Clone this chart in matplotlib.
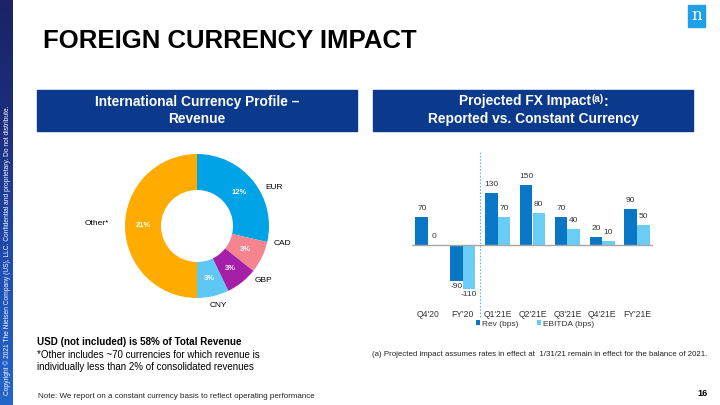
import numpy as np
import matplotlib
matplotlib.use('Agg')
import matplotlib.pyplot as plt
from matplotlib.patches import Rectangle

plt.rcParams['font.family'] = ['Liberation Sans', 'DejaVu Sans']

# donut data (share of total revenue, %)
currencies = ['EUR', 'CAD', 'GBP', 'CNY', 'Other*']
shares = [12, 3, 3, 3, 21]
pie_colors = ['#00a3e6', '#f4858f', '#a61fa8', '#5ec8f5', '#ffab00']

# FX impact data (bps)
periods = ["Q4'20", "FY'20", "Q1'21E", "Q2'21E", "Q3'21E", "Q4'21E", "FY'21E"]
rev_bps = [70, -90, 130, 150, 70, 20, 90]
ebitda_bps = [0, -110, 70, 80, 40, 10, 50]

W, H = 720, 405
fig = plt.figure(figsize=(7.2, 4.05), dpi=100)
renderer = fig.canvas.get_renderer()


def box(x, y, w, h):
    # pixel box (top-left origin) -> figure fraction
    return [x / W, 1 - (y + h) / H, w / W, h / H]


def fx(x):
    return x / W


def fy(y):
    return 1 - y / H


# left band with gradient
band = fig.add_axes(box(0, 0, 13, 405))
grad = np.linspace(0, 1, 256).reshape(-1, 1)
cmap = matplotlib.colors.LinearSegmentedColormap.from_list('band', ['#1a2464', '#1c2f80', '#1f4fb4', '#2466cc'])
band.imshow(grad, aspect='auto', cmap=cmap, extent=[0, 1, 0, 1], origin='upper')
band.axis('off')
fig.text(fx(7), fy(250), 'Copyright © 2021 The Nielsen Company (US), LLC. Confidential and proprietary. Do not distribute.',
         rotation=90, color='white', fontsize=4.8, ha='center', va='center')

# logo
fig.patches.append(Rectangle((fx(688), fy(27)), 17 / W, 22 / H, transform=fig.transFigure,
                             color='#1ea0e6', zorder=1))
fig.text(fx(696.5), fy(16), 'n', color='white', fontsize=12, ha='center', va='center',
         family='DejaVu Serif')

# title
fig.text(fx(43), fy(41), 'FOREIGN CURRENCY IMPACT', fontsize=18.5, fontweight='bold',
         ha='left', va='center', color='black')

# header boxes
hdr = '#0b3a8c'
fig.patches.append(Rectangle((fx(37), fy(131)), 320 / W, 41 / H, transform=fig.transFigure, color=hdr))
fig.patches.append(Rectangle((fx(373), fy(131)), 320 / W, 41 / H, transform=fig.transFigure, color=hdr))
fig.text(fx(197), fy(110.5), 'International Currency Profile –\nRevenue', color='white', fontsize=9.9,
         fontweight='bold', ha='center', va='center', linespacing=1.25)
fig.text(fx(533), fy(119.5), 'Reported vs. Constant Currency', color='white', fontsize=9.9,
         fontweight='bold', ha='center', va='center')
# first line with a small superscript, pieced together
hkw = dict(color='white', fontweight='bold', va='baseline', ha='left')
parts = [fig.text(0, 0, 'Projected FX Impact', fontsize=9.9, **hkw),
         fig.text(0, 0, '(a)', fontsize=7, **hkw),
         fig.text(0, 0, ':', fontsize=9.9, **hkw)]
widths = [p.get_window_extent(renderer).width for p in parts]
xpos = 533 - sum(widths) / 2
base = 105.5
for p, wd, rise in zip(parts, widths, [0, 3.5, 0]):
    p.set_position((fx(xpos), fy(base - rise)))
    xpos += wd + 0.5

# donut
ax1 = fig.add_axes(box(125, 154, 144, 144))
wedges, _ = ax1.pie(shares, colors=pie_colors, startangle=90, counterclock=False,
                    radius=1, wedgeprops=dict(width=0.5, linewidth=0))
ax1.set_xlim(-1, 1)
ax1.set_ylim(-1, 1)
ax1.set_aspect('equal')
# outer label spots, as placed on the slide
label_spot = {'EUR': (1.07, 0.54), 'CAD': (1.19, -0.24), 'GBP': (0.93, -0.76),
              'CNY': (0.29, -1.11), 'Other*': (-1.39, 0.03)}
for w, name, s in zip(wedges, currencies, shares):
    ang = np.deg2rad((w.theta1 + w.theta2) / 2)
    ax1.text(0.75 * np.cos(ang), 0.75 * np.sin(ang), f'{s}%', color='white', fontsize=5.5,
             fontweight='bold', ha='center', va='center')
    lx, ly = label_spot[name]
    ax1.text(lx, ly, name, fontsize=6, ha='center', va='center', clip_on=False)

# bars
ax2 = fig.add_axes(box(412, 156.5, 241, 148))
x = np.arange(len(periods))
bw = 0.36
rev_c = '#0a76c6'
ebd_c = '#6acdf5'
b1 = ax2.bar(x - bw / 2, rev_bps, bw, color=rev_c, label='Rev (bps)')
b2 = ax2.bar(x + bw / 2, ebitda_bps, bw, color=ebd_c, label='EBITDA (bps)')
for bars, vals in ((b1, rev_bps), (b2, ebitda_bps)):
    for r, v in zip(bars, vals):
        cx = r.get_x() + r.get_width() / 2
        if v >= 0:
            ax2.annotate(str(v), (cx, v), xytext=(0, 3), textcoords='offset points',
                         ha='center', va='bottom', fontsize=6, color='#333333')
        else:
            ax2.annotate(str(v), (cx, v), xytext=(0, -2), textcoords='offset points',
                         ha='center', va='top', fontsize=6, color='#333333')
ax2.axhline(0, color='#a6a6a6', linewidth=1)
ax2.plot([1.5, 1.5], [232, -180], color='#5bb8e8', linestyle=(0, (1.5, 1.5)), linewidth=0.8,
         clip_on=False)
ax2.set_xlim(-0.46, 6.46)
ax2.set_ylim(-150, 220)
ax2.set_xticks(x)
ax2.set_xticklabels(periods, fontsize=6.2, color='#333333')
ax2.tick_params(axis='x', length=0, pad=4)
ax2.set_yticks([])
for s in ax2.spines.values():
    s.set_visible(False)
ax2.patch.set_alpha(0)
ax2.legend(loc='center', bbox_to_anchor=(fx(535), fy(324)), bbox_transform=fig.transFigure,
           ncol=2, frameon=False, fontsize=6, handlelength=0.55, handleheight=0.55,
           handletextpad=0.2, columnspacing=2.2, labelcolor='#333333')

# notes
fig.text(fx(37), fy(342), 'USD (not included) is 58% of Total Revenue', fontsize=7.1, fontweight='bold',
         ha='left', va='center')
fig.text(fx(37), fy(361), '*Other includes ~70 currencies for which revenue is\nindividually less than 2% of consolidated revenues',
         fontsize=7, ha='left', va='center', linespacing=1.35)
fig.text(fx(372), fy(354), '(a) Projected impact assumes rates in effect at  1/31/21 remain in effect for the balance of 2021.',
         fontsize=5.7, ha='left', va='center', color='#222222')
fig.text(fx(38), fy(396), 'Note: We report on a constant currency basis to reflect operating performance',
         fontsize=5.8, ha='left', va='center', color='#222222')
fig.text(fx(708), fy(394), '16', fontsize=6.5, fontweight='bold', ha='right', va='center')

fig.savefig('out.png', dpi=100)
